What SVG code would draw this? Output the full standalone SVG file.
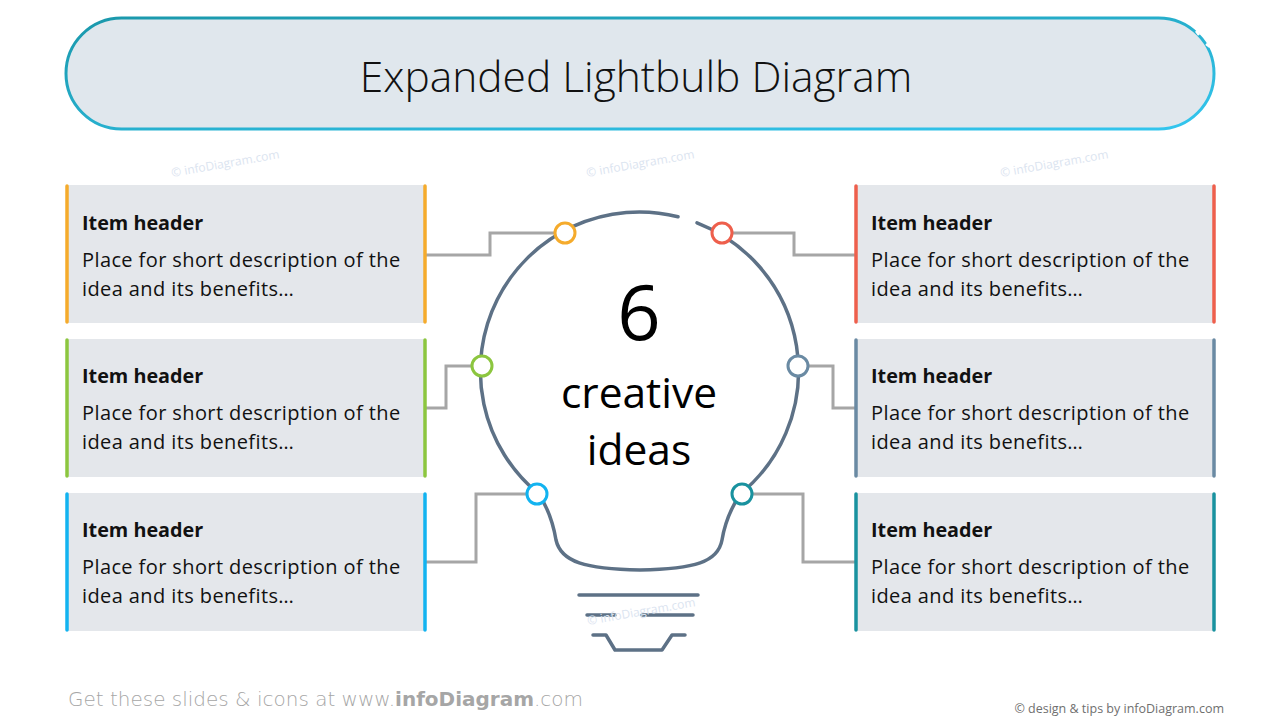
<svg xmlns="http://www.w3.org/2000/svg" width="1280" height="720" viewBox="0 0 1280 720">
<defs>
<linearGradient id="pillStroke" x1="0" y1="0" x2="1" y2="1">
<stop offset="0" stop-color="#1a98ab"/>
<stop offset="1" stop-color="#33c6ef"/>
</linearGradient>
<style>
.box{fill:#e4e7eb}
.bar{stroke-width:3.5;stroke-linecap:round;fill:none}
.hdr{font-family:"Open Sans","Noto Sans",sans-serif;font-weight:700;font-size:19.8px;fill:#111}
.desc{font-family:"Open Sans","Noto Sans",sans-serif;font-size:20px;letter-spacing:0.4px;fill:#111}
.conn{fill:none;stroke:#a6a6a6;stroke-width:3}
.dot{fill:#fff;stroke-width:3}
.bulb{fill:none;stroke:#5d7186;stroke-width:3.5;stroke-linecap:round;stroke-linejoin:round}
.wm{font-family:"Open Sans","Noto Sans",sans-serif;font-size:12px;fill:#dbe4f0}
</style>
</defs>
<rect width="1280" height="720" fill="#fff"/>

<g id="title">
<rect x="66" y="18" width="1148" height="111" rx="55.5" fill="#e0e7ed" stroke="url(#pillStroke)" stroke-width="3"/>
<line x1="1196" y1="31" x2="1199" y2="35" stroke="#fff" stroke-width="2.5"/>
<line x1="1206" y1="44" x2="1210" y2="47" stroke="#fff" stroke-width="2.5"/>
<text x="636" y="92" text-anchor="middle" font-family="'Open Sans','Noto Sans',sans-serif" font-weight="300" font-size="42.5" fill="#111">Expanded Lightbulb Diagram</text>
</g>

<g id="watermarks">
<text class="wm" transform="translate(172,177) rotate(-10)">© infoDiagram.com</text>
<text class="wm" transform="translate(587,177) rotate(-10)">© infoDiagram.com</text>
<text class="wm" transform="translate(1001,177) rotate(-10)">© infoDiagram.com</text>
</g>

<g id="connectors">
<polyline class="conn" points="426,255 490,255 490,233 555,233"/>
<polyline class="conn" points="732,233 794,233 794,255 855,255"/>
<polyline class="conn" points="426,408 446,408 446,366 472,366"/>
<polyline class="conn" points="808,366 833,366 833,408 855,408"/>
<polyline class="conn" points="426,562 476,562 476,494 527,494"/>
<polyline class="conn" points="752,494 803,494 803,562 855,562"/>
</g>

<g id="bulb">
<path class="bulb" d="M538.7 494 A159 159 0 0 1 678 216.7 M697 222.8 A159 159 0 0 1 740.3 494"/>
<path class="bulb" d="M740.3 494 C731 508 725 522 722 540 C718 562 695 569 640 570 C585 569 561 562 556 540 C553 522 548 508 538.7 494"/>
<line class="bulb" x1="579" y1="595" x2="698" y2="595"/>
<line class="bulb" x1="587" y1="615" x2="615" y2="615"/>
<line class="bulb" x1="642" y1="615" x2="693" y2="615"/>
<polyline class="bulb" points="593,635 606,635 615,650 662,650 672,635 685,635"/>
<text x="639" y="340" text-anchor="middle" font-family="'Open Sans','Noto Sans',sans-serif" font-size="76" fill="#000">6</text>
<text x="639" y="408" text-anchor="middle" font-family="'Open Sans','Noto Sans',sans-serif" font-size="42.5" fill="#000">creative</text>
<text x="639" y="465" text-anchor="middle" font-family="'Open Sans','Noto Sans',sans-serif" font-size="42.5" fill="#000">ideas</text>
<text class="wm" transform="translate(588,625) rotate(-10)">© infoDiagram.com</text>
</g>

<g id="dots">
<circle class="dot" cx="565" cy="233" r="10" stroke="#f5ab2c"/>
<circle class="dot" cx="722" cy="233" r="10" stroke="#ee5f4c"/>
<circle class="dot" cx="482" cy="366" r="10" stroke="#8cc63f"/>
<circle class="dot" cx="798" cy="366" r="10" stroke="#6a8aa3"/>
<circle class="dot" cx="537" cy="494" r="10" stroke="#12b3f0"/>
<circle class="dot" cx="742" cy="494" r="10" stroke="#19929f"/>
</g>

<g id="item1">
<rect class="box" x="67" y="185" width="358" height="138"/>
<line class="bar" x1="67" y1="186" x2="67" y2="322" stroke="#f5ab2c"/>
<line class="bar" x1="425" y1="186" x2="425" y2="322" stroke="#f5ab2c"/>
<text class="hdr" x="82" y="230">Item header</text>
<text class="desc" x="82" y="267">Place for short description of the</text>
<text class="desc" x="82" y="296">idea and its benefits…</text>
</g>
<g id="item2">
<rect class="box" x="67" y="339" width="358" height="138"/>
<line class="bar" x1="67" y1="340" x2="67" y2="476" stroke="#8cc63f"/>
<line class="bar" x1="425" y1="340" x2="425" y2="476" stroke="#8cc63f"/>
<text class="hdr" x="82" y="383">Item header</text>
<text class="desc" x="82" y="420">Place for short description of the</text>
<text class="desc" x="82" y="449">idea and its benefits…</text>
</g>
<g id="item3">
<rect class="box" x="67" y="493" width="358" height="138"/>
<line class="bar" x1="67" y1="494" x2="67" y2="630" stroke="#12b3f0"/>
<line class="bar" x1="425" y1="494" x2="425" y2="630" stroke="#12b3f0"/>
<text class="hdr" x="82" y="537">Item header</text>
<text class="desc" x="82" y="574">Place for short description of the</text>
<text class="desc" x="82" y="603">idea and its benefits…</text>
</g>
<g id="item4">
<rect class="box" x="856" y="185" width="358" height="138"/>
<line class="bar" x1="856" y1="186" x2="856" y2="322" stroke="#ee5f4c"/>
<line class="bar" x1="1214" y1="186" x2="1214" y2="322" stroke="#ee5f4c"/>
<text class="hdr" x="871" y="230">Item header</text>
<text class="desc" x="871" y="267">Place for short description of the</text>
<text class="desc" x="871" y="296">idea and its benefits…</text>
</g>
<g id="item5">
<rect class="box" x="856" y="339" width="358" height="138"/>
<line class="bar" x1="856" y1="340" x2="856" y2="476" stroke="#6a8aa3"/>
<line class="bar" x1="1214" y1="340" x2="1214" y2="476" stroke="#6a8aa3"/>
<text class="hdr" x="871" y="383">Item header</text>
<text class="desc" x="871" y="420">Place for short description of the</text>
<text class="desc" x="871" y="449">idea and its benefits…</text>
</g>
<g id="item6">
<rect class="box" x="856" y="493" width="358" height="138"/>
<line class="bar" x1="856" y1="494" x2="856" y2="630" stroke="#19929f"/>
<line class="bar" x1="1214" y1="494" x2="1214" y2="630" stroke="#19929f"/>
<text class="hdr" x="871" y="537">Item header</text>
<text class="desc" x="871" y="574">Place for short description of the</text>
<text class="desc" x="871" y="603">idea and its benefits…</text>
</g>

<g id="footer">
<text x="68" y="706" font-family="'DejaVu Sans','Liberation Sans',sans-serif" font-weight="300" font-size="20" fill="#a6a6a6" textLength="515" lengthAdjust="spacingAndGlyphs">Get these slides &amp; icons at www.<tspan font-weight="700">infoDiagram</tspan>.com</text>
<text x="1224" y="713" text-anchor="end" font-family="'Open Sans','Noto Sans',sans-serif" font-size="12.5" fill="#6f6f6f">© design &amp; tips by infoDiagram.com</text>
</g>
</svg>
